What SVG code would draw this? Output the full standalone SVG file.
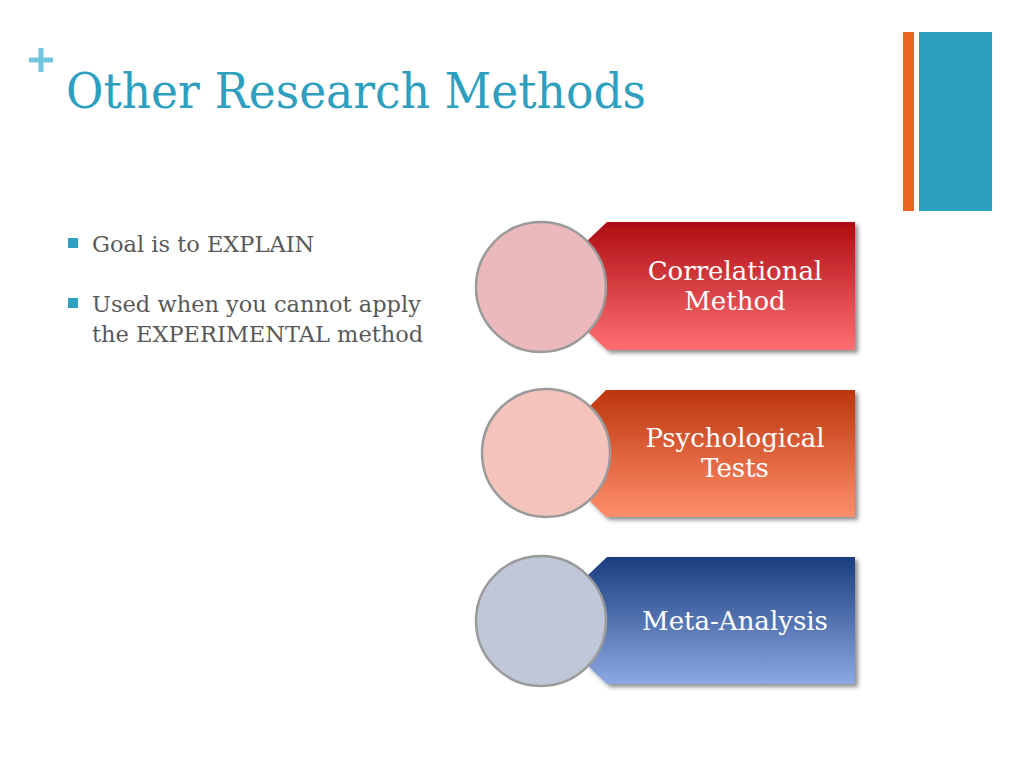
<svg xmlns="http://www.w3.org/2000/svg" width="1024" height="768" viewBox="0 0 1024 768">
<style>
.title{font-family:"DejaVu Serif","Liberation Serif",serif;font-size:48px;fill:#2e9fbf}
.bul{font-family:"DejaVu Serif","Liberation Serif",serif;font-size:22.5px;fill:#595959}
.lbl{font-family:"DejaVu Serif","Liberation Serif",serif;font-size:26px;fill:#ffffff;text-anchor:middle}
.circ{stroke:#9a9a9a;stroke-width:2.5}
</style>
<defs>
<linearGradient id="g1" x1="0" y1="0" x2="0" y2="1"><stop offset="0" stop-color="#ad0d12"/><stop offset="1" stop-color="#ff6f72"/></linearGradient>
<linearGradient id="g2" x1="0" y1="0" x2="0" y2="1"><stop offset="0" stop-color="#bd360c"/><stop offset="1" stop-color="#ff8e6c"/></linearGradient>
<linearGradient id="g3" x1="0" y1="0" x2="0" y2="1"><stop offset="0" stop-color="#1a3d7e"/><stop offset="1" stop-color="#8ca8e2"/></linearGradient>
<filter id="sh" x="-10%" y="-10%" width="125%" height="130%"><feDropShadow dx="3" dy="3" stdDeviation="2" flood-color="#000" flood-opacity="0.45"/></filter>
</defs>
<rect width="1024" height="768" fill="#ffffff"/>
<g id="accent">
<rect x="903" y="32" width="11" height="179" fill="#e8641f"/>
<rect x="919" y="32" width="73" height="179" fill="#2ea0bf"/>
<path d="M41 48v24M29 60h24" stroke="#73c4dd" stroke-width="5"/>
</g>
<text class="title" x="66" y="108" textLength="580" lengthAdjust="spacingAndGlyphs">Other Research Methods</text>
<g id="bullets">
<rect x="68" y="238" width="10" height="10" fill="#2ea0bf"/>
<text class="bul" x="92" y="252">Goal is to EXPLAIN</text>
<rect x="68" y="298" width="10" height="10" fill="#2ea0bf"/>
<text class="bul" x="92" y="312">Used when you cannot apply</text>
<text class="bul" x="92" y="342">the EXPERIMENTAL method</text>
</g>
<g id="node1">
<path d="M607 222H855V350H607L588 332V240Z" fill="url(#g1)" filter="url(#sh)"/>
<circle class="circ" cx="541" cy="287" r="65" fill="#ebb9bb"/>
<text class="lbl" x="735" y="280">Correlational</text>
<text class="lbl" x="735" y="310">Method</text>
</g>
<g id="node2">
<path d="M606 390H855V517H606L588 499V408Z" fill="url(#g2)" filter="url(#sh)"/>
<circle class="circ" cx="546" cy="453" r="64" fill="#f4c4bc"/>
<text class="lbl" x="735" y="447">Psychological</text>
<text class="lbl" x="735" y="477">Tests</text>
</g>
<g id="node3">
<path d="M607 557H855V684H607L588 666V575Z" fill="url(#g3)" filter="url(#sh)"/>
<circle class="circ" cx="541" cy="621" r="65" fill="#c0c7d8"/>
<text class="lbl" x="735" y="630">Meta-Analysis</text>
</g>
</svg>
